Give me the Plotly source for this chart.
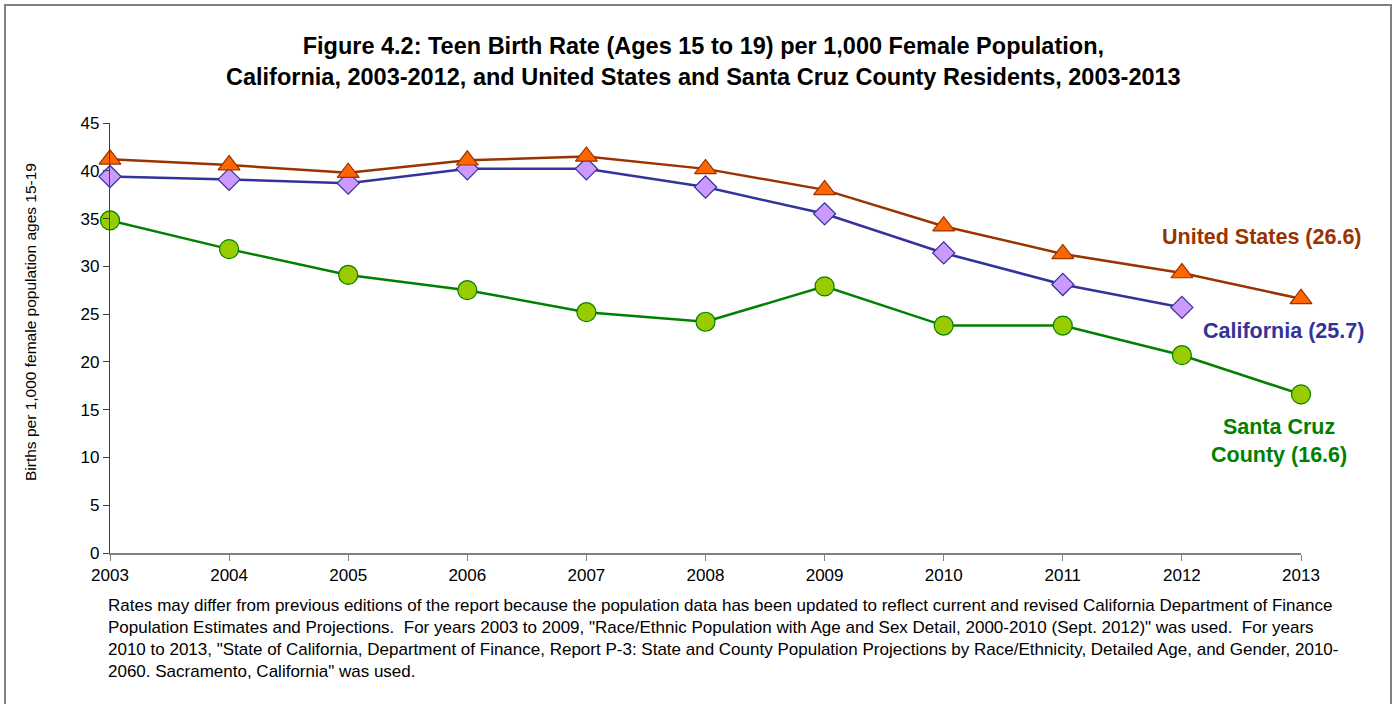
import plotly.graph_objects as go

years = [2003, 2004, 2005, 2006, 2007, 2008, 2009, 2010, 2011, 2012, 2013]
us_rate = [41.2, 40.6, 39.8, 41.1, 41.5, 40.2, 38.0, 34.2, 31.3, 29.3, 26.6]
ca_years = [2003, 2004, 2005, 2006, 2007, 2008, 2009, 2010, 2011, 2012]
ca_rate = [39.4, 39.1, 38.7, 40.2, 40.2, 38.3, 35.5, 31.4, 28.1, 25.7]
sc_rate = [34.8, 31.8, 29.1, 27.5, 25.2, 24.2, 27.9, 23.8, 23.8, 20.7, 16.6]
y_ticks = [0, 5, 10, 15, 20, 25, 30, 35, 40, 45]

W, H = 1393, 704
L, R, T, B = 110, 92, 123, 151
PW, PH = W - L - R, H - T - B

def px(x):
    return (x - L) / PW

def py(y):
    return (H - B - y) / PH

fig = go.Figure()
fig.add_trace(go.Scatter(
    x=years, y=sc_rate, mode="lines+markers", name="Santa Cruz County",
    line=dict(color="#008000", width=2.5),
    marker=dict(symbol="circle", size=19, color="#99CC00", line=dict(color="#008000", width=1.2)),
    cliponaxis=False))
fig.add_trace(go.Scatter(
    x=ca_years, y=ca_rate, mode="lines+markers", name="California",
    line=dict(color="#333399", width=2.5),
    marker=dict(symbol="diamond", size=17, color="#CC99FF", line=dict(color="#333399", width=1.2)),
    cliponaxis=False))
fig.add_trace(go.Scatter(
    x=years, y=us_rate, mode="lines+markers", name="United States",
    line=dict(color="#993300", width=2.5),
    marker=dict(symbol="triangle-up", size=19, color="#FF6600", line=dict(color="#993300", width=1.2)),
    cliponaxis=False))

fig.update_layout(
    width=W, height=H,
    margin=dict(l=L, r=R, t=T, b=B),
    paper_bgcolor="white", plot_bgcolor="white",
    showlegend=False,
    font=dict(family="Liberation Sans, Arial, sans-serif", color="black"),
    xaxis=dict(range=[2003, 2013], tickmode="array", tickvals=years,
               ticktext=[str(y) for y in years], showgrid=False, zeroline=False,
               showline=True, linecolor="#808080", linewidth=1.5,
               ticks="outside", ticklen=6, tickcolor="#808080",
               tickfont=dict(size=17, color="black")),
    yaxis=dict(range=[0, 45], tickmode="array", tickvals=y_ticks,
               showgrid=False, zeroline=False,
               showline=True, linecolor="#404040", linewidth=1.2,
               ticks="outside", ticklen=6, tickcolor="#404040",
               tickfont=dict(size=17, color="black")),
)

fig.add_shape(type="rect", xref="paper", yref="paper",
              x0=px(5), x1=px(1391), y0=py(5), y1=py(760),
              line=dict(color="#808080", width=2), layer="below")

fig.add_annotation(text="Births per 1,000 female population ages 15-19",
                   xref="paper", yref="paper", x=px(30), y=py(322),
                   xanchor="center", yanchor="middle", textangle=-90,
                   showarrow=False, font=dict(size=15.5, color="black"))

fig.add_annotation(
    text="<b>Figure 4.2: Teen Birth Rate (Ages 15 to 19) per 1,000 Female Population,<br>"
         "California, 2003-2012, and United States and Santa Cruz County Residents, 2003-2013</b>",
    xref="paper", yref="paper", x=px(703), y=py(61), xanchor="center", yanchor="middle",
    showarrow=False, font=dict(size=23.5, color="black", family="Liberation Sans, Arial"),
    align="center")

fig.add_annotation(text="<b>United States (26.6)</b>", xref="paper", yref="paper",
                   x=px(1262), y=py(237), xanchor="center", yanchor="middle", showarrow=False,
                   font=dict(size=21.5, color="#993300"))
fig.add_annotation(text="<b>California (25.7)</b>", xref="paper", yref="paper",
                   x=px(1283), y=py(331), xanchor="center", yanchor="middle", showarrow=False,
                   font=dict(size=21.5, color="#333399"))
fig.add_annotation(text="<b>Santa Cruz<br>County (16.6)</b>", xref="paper", yref="paper",
                   x=px(1279), y=py(441), xanchor="center", yanchor="middle", showarrow=False,
                   font=dict(size=21.5, color="#008000"), align="center")

footnote = ("Rates may differ from previous editions of the report because the population data has been updated to reflect current and revised California Department of Finance<br>"
            "Population Estimates and Projections.  For years 2003 to 2009, \"Race/Ethnic Population with Age and Sex Detail, 2000-2010 (Sept. 2012)\" was used.  For years<br>"
            "2010 to 2013, \"State of California, Department of Finance, Report P-3: State and County Population Projections by Race/Ethnicity, Detailed Age, and Gender, 2010-<br>"
            "2060. Sacramento, California\" was used.")
fig.add_annotation(text=footnote, xref="paper", yref="paper",
                   x=px(106), y=py(594), xanchor="left", yanchor="top",
                   showarrow=False, align="left",
                   font=dict(size=17, color="black"))

fig.write_html("out.html", config={"displayModeBar": False},
               post_script="document.body.style.margin='0';document.body.style.overflow='hidden';")
